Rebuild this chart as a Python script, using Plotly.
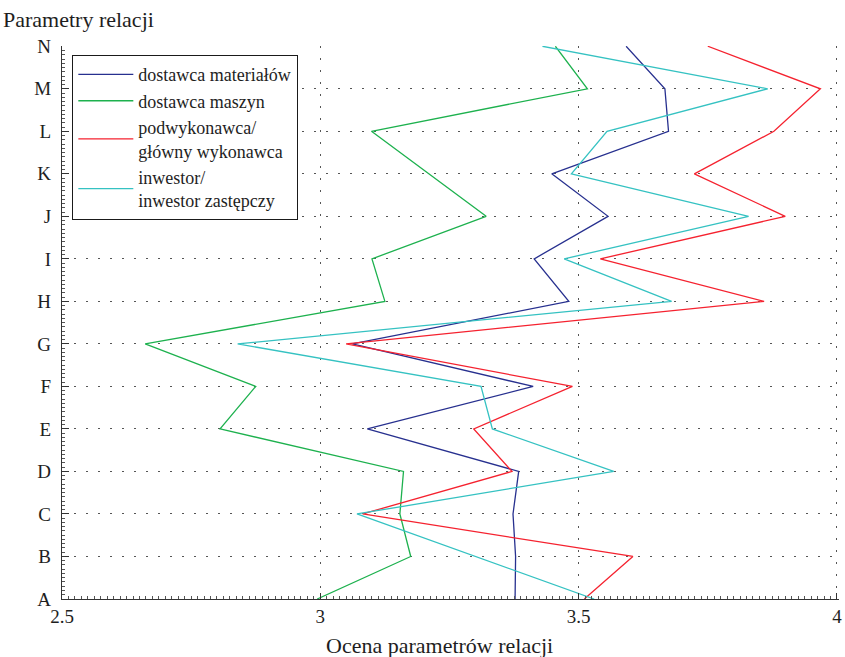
import plotly.graph_objects as go

# Relation parameters (A..N) and mean scores per partner type
categories = ["A", "B", "C", "D", "E", "F", "G", "H", "I", "J", "K", "L", "M", "N"]

dostawca_materialow = [3.377, 3.378, 3.373, 3.384, 3.091, 3.412, 3.062,
                       3.481, 3.414, 3.557, 3.448, 3.674, 3.667, 3.592]
dostawca_maszyn = [2.994, 3.175, 3.154, 3.161, 2.806, 2.875, 2.661,
                   3.125, 3.100, 3.321, 3.210, 3.099, 3.517, 3.455]
podwykonawca = [3.511, 3.605, 3.082, 3.371, 3.297, 3.488, 3.050,
                3.859, 3.542, 3.900, 3.724, 3.878, 3.968, 3.750]
inwestor = [3.530, 3.301, 3.071, 3.568, 3.333, 3.311, 2.840,
            3.680, 3.472, 3.829, 3.486, 3.555, 3.866, 3.430]

x_ticks = [2.5, 3, 3.5, 4]
x_tick_text = ["2.5", "3", "3.5", "4"]

series = [
    ("dostawca materiałów", dostawca_materialow, "#27308f"),
    ("dostawca maszyn", dostawca_maszyn, "#1db14e"),
    ("podwykonawca/<br>główny wykonawca", podwykonawca, "#f5222f"),
    ("inwestor/<br>inwestor zastępczy", inwestor, "#35c2c2"),
]

# numeric position of each category on the vertical axis
y_pos = [categories.index(c) for c in categories]

FONT = "Liberation Serif"
TXT = "#1e1e1e"

fig = go.Figure()
for name, vals, color in series:
    fig.add_trace(go.Scatter(
        x=vals, y=y_pos, mode="lines", name=name,
        line=dict(color=color, width=1.3),
    ))

grid = dict(showgrid=True, gridcolor="#555555", gridwidth=1.2, griddash="2px,10px")

fig.update_layout(
    width=845, height=657,
    margin=dict(l=62, r=3, t=46, b=58),
    paper_bgcolor="white", plot_bgcolor="white",
    font=dict(family=FONT, size=19, color=TXT),
    showlegend=True,
    legend=dict(
        x=0.0129, y=0.984, xanchor="left", yanchor="top",
        bordercolor="#1a1a1a", borderwidth=1.3, bgcolor="white",
        font=dict(family=FONT, size=18, color=TXT),
        itemwidth=55, tracegroupgap=0,
        entrywidth=225, entrywidthmode="pixels",
    ),
    xaxis=dict(
        range=[2.5, 4.004], tickvals=x_ticks, ticktext=x_tick_text,
        showline=True, linecolor="#333333", linewidth=1.3,
        ticks="inside", ticklen=6, tickcolor="#333333",
        minor=dict(ticks="inside", ticklen=3, dtick=0.0125, tickcolor="#555555", showgrid=False),
        zeroline=False, ticklabeloverflow="allow", **grid,
    ),
    yaxis=dict(
        range=[0, 13.006], tickvals=y_pos, ticktext=categories,
        showline=True, linecolor="#333333", linewidth=1.3,
        ticks="inside", ticklen=7, tickcolor="#333333",
        minor=dict(ticks="inside", ticklen=3, dtick=0.1, tickcolor="#555555", showgrid=False),
        zeroline=False, ticklabelstandoff=6, **grid,
    ),
    annotations=[
        dict(text="Parametry relacji", xref="paper", yref="paper",
             x=-0.078, y=1.022, xanchor="left", yanchor="bottom",
             showarrow=False, font=dict(family=FONT, size=22, color=TXT)),
        dict(text="Ocena parametrów relacji", xref="paper", yref="paper",
             x=0.486, y=-0.084, xanchor="center", yanchor="middle",
             showarrow=False, font=dict(family=FONT, size=22, color=TXT)),
    ],
)

fig.write_html("out.html")
